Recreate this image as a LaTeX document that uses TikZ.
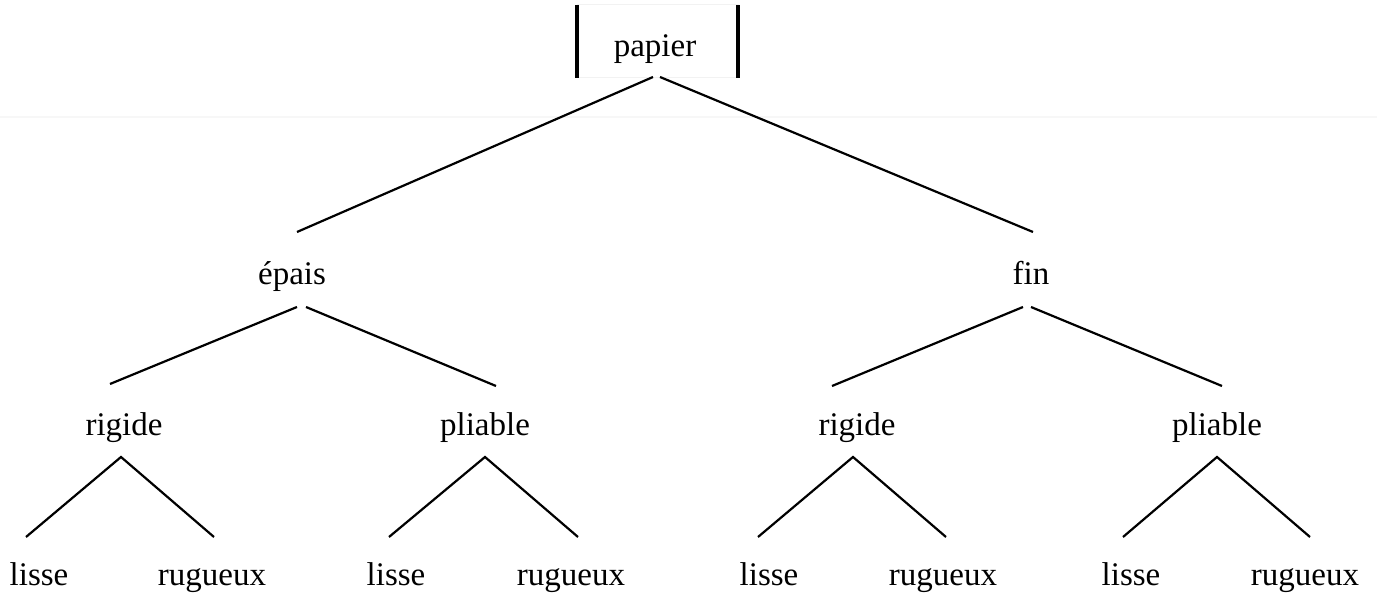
\documentclass[tikz,border=0pt]{standalone}
\usepackage{fontspec}
\setmainfont{Liberation Serif}
\usepackage{tikz}

\tikzset{
  lbl/.style={anchor=base,inner sep=0pt,font=\fontsize{16.5}{20}\selectfont},
  edge/.style={line width=1.1pt},
  bar/.style={line width=2pt}
}

\begin{document}
\begin{tikzpicture}[x=0.5pt,y=-0.5pt]
\useasboundingbox (0,0) rectangle (1377,598);

\draw[gray!6,line width=0.6pt] (0,117) -- (1377,117);

% root
\node[lbl] (papier) at (655,57) {papier};
\draw[gray!10,line width=0.5pt] (577,5) rectangle (738,78);
\draw[bar] (577,5) -- (577,78);
\draw[bar] (738,5) -- (738,78);

% level 1
\node[lbl] (epais) at (292,285) {épais};
\node[lbl] (fin) at (1031,285) {fin};

% level 2
\node[lbl] (rigA) at (124,436) {rigide};
\node[lbl] (pliA) at (485,436) {pliable};
\node[lbl] (rigB) at (857,436) {rigide};
\node[lbl] (pliB) at (1217,436) {pliable};

% leaves
\node[lbl] (lisA) at (39,586) {lisse};
\node[lbl] (rugA) at (212,586) {rugueux};
\node[lbl] (lisB) at (396,586) {lisse};
\node[lbl] (rugB) at (571,586) {rugueux};
\node[lbl] (lisC) at (769,586) {lisse};
\node[lbl] (rugC) at (943,586) {rugueux};
\node[lbl] (lisD) at (1131,586) {lisse};
\node[lbl] (rugD) at (1305,586) {rugueux};

\draw[edge] ([shift={(-2,20)}]papier.base) -- ([shift={(5,-53)}]epais.base);
\draw[edge] ([shift={(5,20)}]papier.base) -- ([shift={(2,-53)}]fin.base);

\draw[edge] ([shift={(5,22)}]epais.base) -- ([shift={(-14,-52)}]rigA.base);
\draw[edge] ([shift={(14,22)}]epais.base) -- ([shift={(11,-50)}]pliA.base);
\draw[edge] ([shift={(-8,22)}]fin.base) -- ([shift={(-25,-50)}]rigB.base);
\draw[edge] ([shift={(0,22)}]fin.base) -- ([shift={(5,-50)}]pliB.base);

\draw[edge] ([shift={(-13,-49)}]lisA.base) -- ([shift={(-3,21)}]rigA.base) -- ([shift={(2,-49)}]rugA.base);
\draw[edge] ([shift={(-7,-49)}]lisB.base) -- ([shift={(0,21)}]pliA.base) -- ([shift={(7,-49)}]rugB.base);
\draw[edge] ([shift={(-11,-49)}]lisC.base) -- ([shift={(-4,21)}]rigB.base) -- ([shift={(3,-49)}]rugC.base);
\draw[edge] ([shift={(-8,-49)}]lisD.base) -- ([shift={(0,21)}]pliB.base) -- ([shift={(5,-49)}]rugD.base);
\end{tikzpicture}
\end{document}
